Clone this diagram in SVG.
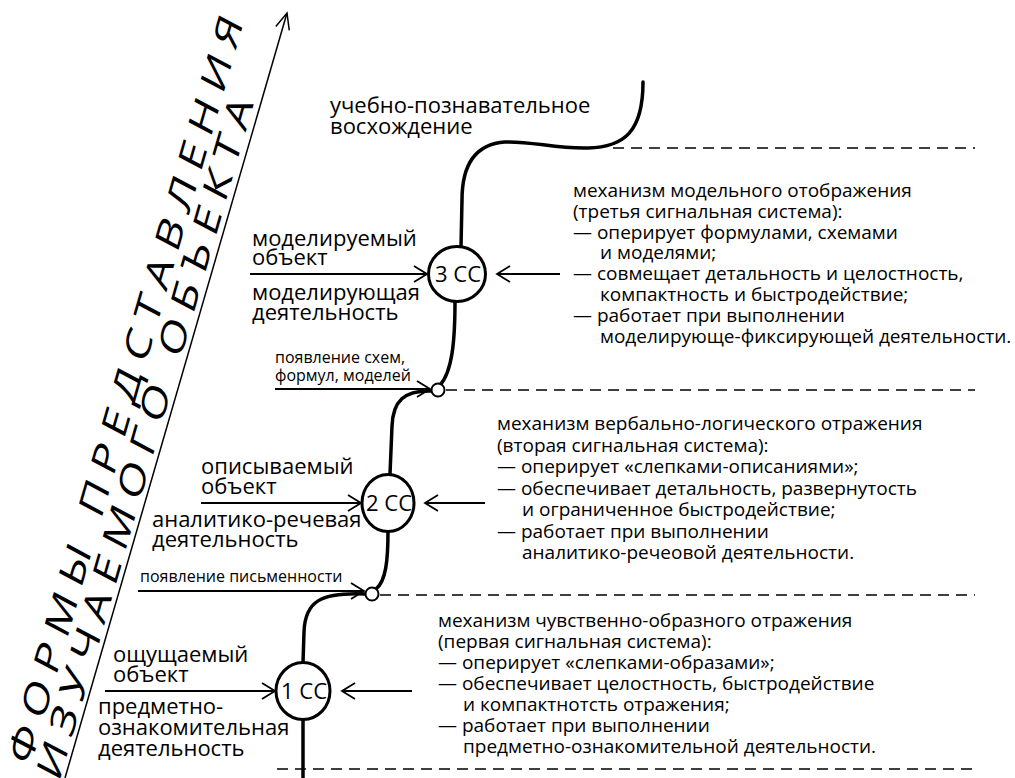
<svg xmlns="http://www.w3.org/2000/svg" width="1015" height="778" viewBox="0 0 1015 778">
<defs>
<style>
text{font-family:"Open Sans","Noto Sans","Liberation Sans",sans-serif;fill:#000}
.big{font-size:22px}
.body{font-size:19px}
.small{font-size:16px}
.title{font-size:36px}
.cc{font-size:22px;text-anchor:middle}
.curve{fill:none;stroke:#000;stroke-width:3.5;stroke-linecap:round}
.node{fill:#fff;stroke:#000;stroke-width:3}
.dot{fill:#fff;stroke:#000;stroke-width:2}
.dash{fill:none;stroke:#000;stroke-width:1.6;stroke-dasharray:11 7}
.arrow{fill:none;stroke:#000;stroke-width:1.8;marker-end:url(#chev)}
.axis{fill:none;stroke:#000;stroke-width:1.5;marker-end:url(#chevA)}
</style>
<marker id="chev" markerUnits="userSpaceOnUse" viewBox="-16 -10 18 20" markerWidth="18" markerHeight="20" refX="0" refY="0" orient="auto" overflow="visible">
<path d="M-13,-8 L0,0 L-13,8" fill="none" stroke="#000" stroke-width="1.8"/>
</marker>
<marker id="chevA" markerUnits="userSpaceOnUse" viewBox="-20 -10 22 20" markerWidth="22" markerHeight="20" refX="0" refY="0" orient="auto" overflow="visible">
<path d="M-16,-7 L0,0 L-16,7" fill="none" stroke="#000" stroke-width="1.5"/>
</marker>
</defs>
<rect width="1015" height="778" fill="#fff"/>

<g id="title">
<g transform="translate(59,783) rotate(-74) skewX(-12) scale(1.3,1)">
<text class="title" x="0" y="-32" letter-spacing="7.9">ФОРМЫ ПРЕДСТАВЛЕНИЯ</text>
<text class="title" x="0" y="0" letter-spacing="7.6">ИЗУЧАЕМОГО ОБЪЕКТА</text>
</g>
</g>

<g id="connectors">
<path class="axis" d="M65,778 L287,13"/>
<path class="dash" d="M613,148 H975"/>
<path class="dash" d="M446,390 H975"/>
<path class="dash" d="M380,595 H975"/>
<path class="dash" d="M277,769 H975"/>
<path class="curve" d="M643,82 C643,132 624,147 588,148 C556,149 532,141 505,142 C476,144 462,163 462,200 L461,247"/>
<path class="curve" d="M455,301 C455,342 452,372 440,385"/>
<path class="curve" d="M432,391 C404,390 393,401 392,426 L390,474"/>
<path class="curve" d="M388,531 C388,560 386,581 376,589"/>
<path class="curve" d="M366,594 C321,592 305,601 304,632 L303,663"/>
<path class="curve" d="M303,719 L303,778"/>
<path class="arrow" d="M250,274 H427"/>
<path class="arrow" d="M560,274 H497"/>
<path class="arrow" d="M275,389 H430"/>
<path class="arrow" d="M201,503 H361"/>
<path class="arrow" d="M485,503 H425"/>
<path class="arrow" d="M138,591 H364"/>
<path class="arrow" d="M105,691 H275"/>
<path class="arrow" d="M412,691 H342"/>
</g>

<g id="top-label">
<text class="big" x="330" y="113">учебно-познавательное</text>
<text class="big" x="330" y="134">восхождение</text>
</g>

<g id="node-3cc">
<ellipse class="node" cx="457" cy="274" rx="28.5" ry="27.5"/>
<text class="cc" x="458" y="282">3 СС</text>
</g>
<g id="label-3cc-left">
<text class="big" x="252" y="246">моделируемый</text>
<text class="big" x="252" y="265">объект</text>
<text class="big" x="252" y="300">моделирующая</text>
<text class="big" x="252" y="320">деятельность</text>
</g>
<g id="label-3cc-right">
<text class="body" x="573" y="197">механизм модельного отображения</text>
<text class="body" x="573" y="217.8">(третья сигнальная система):</text>
<text class="body" x="573" y="238.6">— оперирует формулами, схемами</text>
<text class="body" x="600" y="259.4">и моделями;</text>
<text class="body" x="573" y="280.2">— совмещает детальность и целостность,</text>
<text class="body" x="600" y="301">компактность и быстродействие;</text>
<text class="body" x="573" y="321.8">— работает при выполнении</text>
<text class="body" x="600" y="342.6">моделирующе-фиксирующей деятельности.</text>
</g>

<g id="node-dot1">
<circle class="dot" cx="438" cy="390" r="6.5"/>
<text class="small" x="275" y="363">появление схем,</text>
<text class="small" x="275" y="381">формул, моделей</text>
</g>

<g id="node-2cc">
<ellipse class="node" cx="388" cy="503" rx="26" ry="28.5"/>
<text class="cc" x="389" y="511">2 СС</text>
</g>
<g id="label-2cc-left">
<text class="big" x="201" y="474">описываемый</text>
<text class="big" x="201" y="494">объект</text>
<text class="big" x="152" y="527">аналитико-речевая</text>
<text class="big" x="152" y="547">деятельность</text>
</g>
<g id="label-2cc-right">
<text class="body" x="497" y="430">механизм вербально-логического отражения</text>
<text class="body" x="497" y="451.5">(вторая сигнальная система):</text>
<text class="body" x="497" y="473">— оперирует «слепками-описаниями»;</text>
<text class="body" x="497" y="494.5">— обеспечивает детальность, развернутость</text>
<text class="body" x="522" y="516">и ограниченное быстродействие;</text>
<text class="body" x="497" y="537.5">— работает при выполнении</text>
<text class="body" x="522" y="559">аналитико-речеовой деятельности.</text>
</g>

<g id="node-dot2">
<circle class="dot" cx="372" cy="594" r="6.5"/>
<text class="small" x="140" y="582">появление письменности</text>
</g>

<g id="node-1cc">
<ellipse class="node" cx="303" cy="691" rx="27" ry="28.5"/>
<text class="cc" x="304" y="699">1 СС</text>
</g>
<g id="label-1cc-left">
<text class="big" x="113" y="662">ощущаемый</text>
<text class="big" x="113" y="682">объект</text>
<text class="big" x="98" y="714">предметно-</text>
<text class="big" x="98" y="735">ознакомительная</text>
<text class="big" x="98" y="756">деятельность</text>
</g>
<g id="label-1cc-right">
<text class="body" x="438" y="627">механизм чувственно-образного отражения</text>
<text class="body" x="438" y="648">(первая сигнальная система):</text>
<text class="body" x="438" y="669">— оперирует «слепками-образами»;</text>
<text class="body" x="438" y="690">— обеспечивает целостность, быстродействие</text>
<text class="body" x="463" y="711">и компактнотсть отражения;</text>
<text class="body" x="438" y="732">— работает при выполнении</text>
<text class="body" x="463" y="753">предметно-ознакомительной деятельности.</text>
</g>
</svg>
